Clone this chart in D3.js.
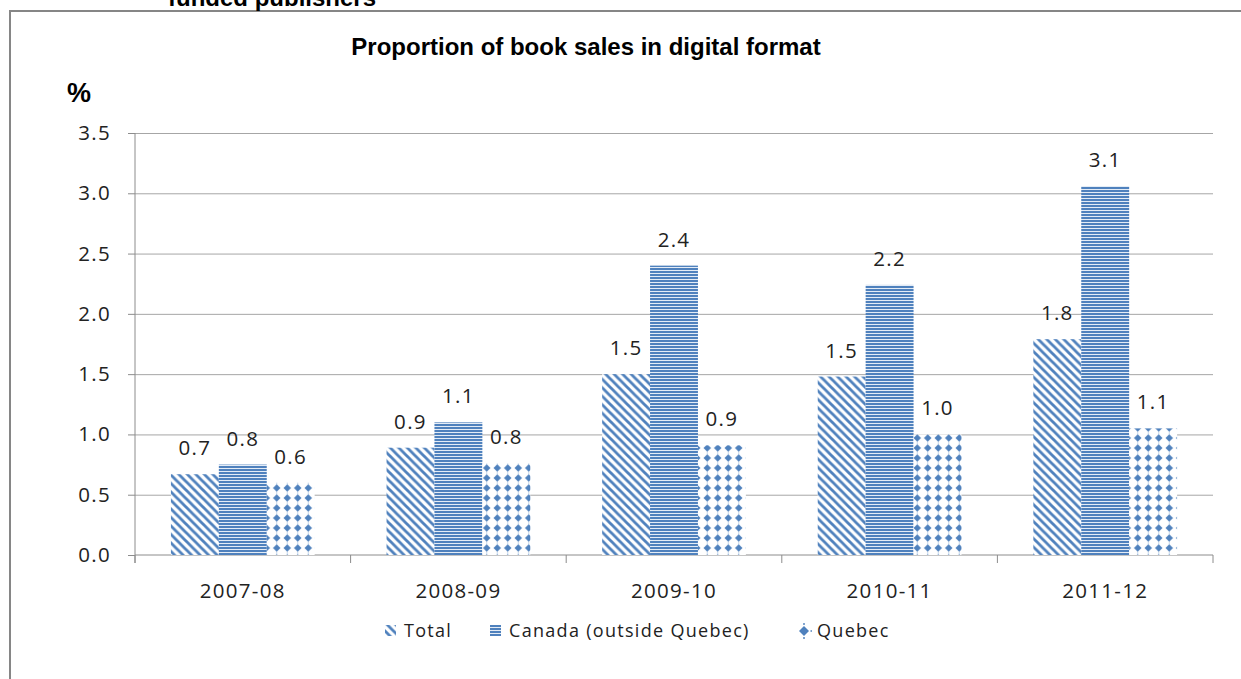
<!DOCTYPE html>
<html>
<head>
<meta charset="utf-8">
<script src="https://cdn.jsdelivr.net/npm/d3@7"></script>
<style>
  body { margin: 0; background: #fff; }
  svg text { font-family: "Open Sans", Lato, sans-serif; fill: #222; letter-spacing: 1.3px; }
  .title, .cut, .unit { font-family: "Liberation Sans", Arial, sans-serif; font-weight: bold; fill: #000; letter-spacing: 0; }
  .axis path { display: none; }
  .axis line { stroke: #8c8c8c; }
  .grid line { stroke: #a6a6a6; }
  .grid path { display: none; }
</style>
</head>
<body>
<div id="chart"></div>
<script>
const WIDTH = 1241, HEIGHT = 679;
const M = { top: 133, right: 28, bottom: 124, left: 135 };
const innerW = WIDTH - M.left - M.right;
const innerH = HEIGHT - M.top - M.bottom;

// data
const years = ["2007-08", "2008-09", "2009-10", "2010-11", "2011-12"];
const seriesNames = ["Total", "Canada (outside Quebec)", "Quebec"];
const total = [0.67, 0.89, 1.50, 1.48, 1.79];
const canada = [0.75, 1.10, 2.40, 2.24, 3.06];
const quebec = [0.60, 0.76, 0.91, 1.00, 1.05];
const yTicks = [0, 0.5, 1.0, 1.5, 2.0, 2.5, 3.0, 3.5];

const seriesVals = [total, canada, quebec];
const patIds = ["pTotal", "pCanada", "pQuebec"];
const BLUE = "#4f81bd";

const svg = d3.select("#chart").append("svg")
  .attr("width", WIDTH).attr("height", HEIGHT);

// patterns
const defs = svg.append("defs");
const p1 = defs.append("pattern").attr("id", "pTotal")
  .attr("patternUnits", "userSpaceOnUse").attr("width", 8.5).attr("height", 8.5);
p1.append("rect").attr("width", 8.5).attr("height", 8.5).attr("fill", "#fff");
p1.append("path").attr("d", "M-2,-2 L10.5,10.5 M-2,6.5 L2,10.5 M6.5,-2 L10.5,2")
  .attr("stroke", BLUE).attr("stroke-width", 2.8);

const p2 = defs.append("pattern").attr("id", "pCanada")
  .attr("patternUnits", "userSpaceOnUse").attr("width", 6).attr("height", 3);
p2.append("rect").attr("width", 6).attr("height", 3).attr("fill", "#e4ecf6");
p2.append("rect").attr("width", 6).attr("height", 2).attr("fill", BLUE);

const p3 = defs.append("pattern").attr("id", "pQuebec")
  .attr("patternUnits", "userSpaceOnUse").attr("width", 10.5).attr("height", 10);
p3.append("rect").attr("width", 10.5).attr("height", 10).attr("fill", "#fff");
p3.append("path").attr("d", "M5.25,1.2 L9,5 L5.25,8.8 L1.5,5 Z").attr("fill", BLUE);
p3.append("rect").attr("x", 4.75).attr("y", 0).attr("width", 1).attr("height", 10).attr("fill", BLUE).attr("opacity", 0.35);

// frame (cut-off chart box)
svg.append("path").attr("d", `M10,${HEIGHT} L10,11 L${WIDTH},11`)
  .attr("fill", "none").attr("stroke", "#868686").attr("stroke-width", 2);

svg.append("text").attr("class", "cut")
  .attr("x", 168).attr("y", 6).attr("font-size", 24)
  .text("funded publishers");

svg.append("text").attr("class", "title")
  .attr("x", 586).attr("y", 55).attr("text-anchor", "middle").attr("font-size", 24)
  .text("Proportion of book sales in digital format");

svg.append("text").attr("class", "unit")
  .attr("x", 67).attr("y", 102).attr("font-size", 27)
  .text("%");

const g = svg.append("g").attr("transform", `translate(${M.left},${M.top})`);

const x0 = d3.scaleBand().domain(years).range([0, innerW]).paddingInner(0).paddingOuter(0);
const x1 = d3.scaleBand().domain(seriesNames).range([0, x0.bandwidth()]).paddingInner(0).paddingOuter(0.75);
const y = d3.scaleLinear().domain([0, 3.5]).range([innerH, 0]);
const fmt = d3.format(".1f");

g.append("g").attr("class", "grid")
  .call(d3.axisLeft(y).tickValues(yTicks.slice(1)).tickSize(-innerW).tickFormat(""));

g.append("g").attr("class", "axis")
  .call(d3.axisLeft(y).tickValues(yTicks).tickSize(7).tickPadding(17).tickFormat(fmt))
  .call(a => a.selectAll("text").attr("font-size", 20.5));

// axis lines
g.append("line").attr("x1", 0).attr("x2", 0).attr("y1", 0).attr("y2", innerH + 8)
  .attr("stroke", "#8c8c8c");
g.append("line").attr("x1", 0).attr("x2", innerW).attr("y1", innerH).attr("y2", innerH)
  .attr("stroke", "#8c8c8c");
const bounds = years.map(c => x0(c)).concat([x0.range()[1]]);
g.selectAll(".xtick").data(bounds).join("line").attr("class", "xtick")
  .attr("x1", d => d).attr("x2", d => d).attr("y1", innerH).attr("y2", innerH + 8)
  .attr("stroke", "#8c8c8c");

g.append("g").attr("class", "axis")
  .attr("transform", `translate(0,${innerH})`)
  .call(d3.axisBottom(x0).tickSize(0).tickPadding(28))
  .call(a => a.selectAll("text").attr("font-size", 20.5));

// bars
const rows = seriesNames.map((s, si) => years.map((yr, i) => ({ s, si, yr, v: seriesVals[si][i] })));
const groups = g.selectAll(".series").data(rows).join("g").attr("class", "series");
groups.selectAll("rect").data(d => d).join("rect")
  .attr("x", d => x0(d.yr) + x1(d.s))
  .attr("width", x1.bandwidth())
  .attr("y", d => y(d.v))
  .attr("height", d => innerH - y(d.v))
  .attr("fill", d => `url(#${patIds[d.si]})`);

groups.selectAll("text").data(d => d).join("text")
  .attr("x", d => x0(d.yr) + x1(d.s) + x1.bandwidth() / 2)
  .attr("y", d => y(d.v) - 19)
  .attr("text-anchor", "middle").attr("font-size", 20.5)
  .text(d => fmt(d.v));

// legend
const legendX = [385, 490, 798];
const legend = svg.append("g").attr("transform", "translate(0,631)");
const items = legend.selectAll("g").data(seriesNames).join("g")
  .attr("transform", (_, i) => `translate(${legendX[i]},0)`);
items.filter((_, i) => i < 2).append("rect")
  .attr("x", 0).attr("y", -6).attr("width", 11).attr("height", 11)
  .attr("fill", d => `url(#${patIds[seriesNames.indexOf(d)]})`);
const qIcon = items.filter((_, i) => i === 2);
qIcon.append("path").attr("d", "M6,-5 L11,0 L6,5 L1,0 Z").attr("fill", BLUE);
qIcon.append("path").attr("d", "M6,-8 L6,-6 M6,6 L6,8 M12.5,0 L14,0").attr("stroke", BLUE).attr("stroke-width", 1.4);
items.append("text").attr("x", 19).attr("y", 6).attr("font-size", 18).text(d => d);
</script>
</body>
</html>
